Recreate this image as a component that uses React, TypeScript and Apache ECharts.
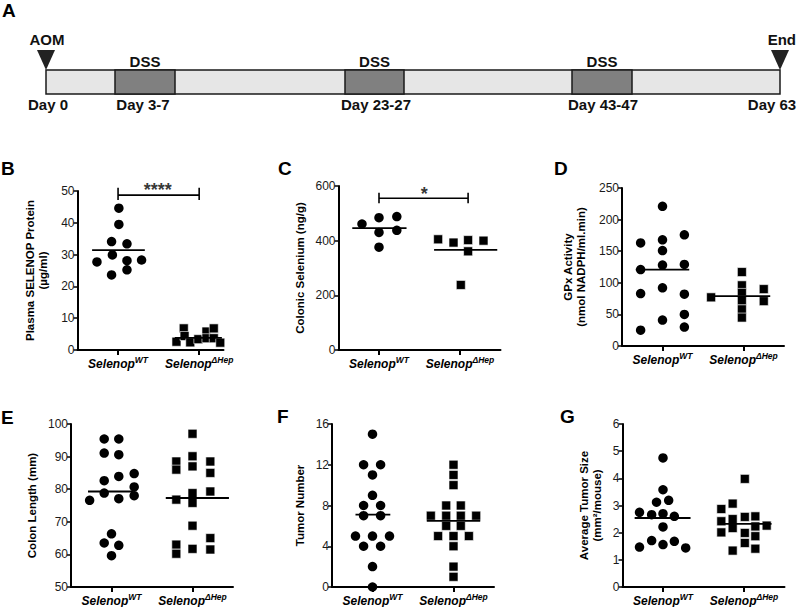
import React, { useEffect, useRef } from "react";
import * as echarts from "echarts";

const FONT = "'Liberation Sans', Arial, Helvetica, sans-serif";

// ---------- Panel A (timeline) ----------
const eventLabels = ["AOM", "End"];
const dssLabel = "DSS";
const dayLabels = ["Day 0", "Day 3-7", "Day 23-27", "Day 43-47", "Day 63"];

// ---------- Group labels ----------
const groupSup = ["WT", "ΔHep"];

// ---------- Panel B: Plasma SELENOP ----------
const bWtX = [1.01, 1.01, 0.92, 1.11, 0.74, 0.93, 1.11, 1.29, 0.92, 1.11];
const bWtValues = [44.6, 39.5, 34.1, 33.4, 27.7, 29.9, 28.1, 28.3, 23.6, 25.2];
const bHepX = [1.72, 1.81, 1.82, 1.89, 1.99, 2.09, 2.09, 2.18, 2.18, 2.26];
const bHepValues = [2.6, 6.8, 4.4, 2.4, 3.4, 5.8, 3.7, 6.8, 3.7, 2.3];
const bMeans = [31.4, 3.8];

// ---------- Panel C: Colonic Selenium ----------
const cWtX = [0.79, 1.0, 1.22, 1.0, 1.22, 1.0];
const cWtValues = [461, 484, 488, 430, 438, 376];
const cHepX = [1.73, 1.92, 2.1, 2.29, 2.1, 2.01];
const cHepValues = [405, 393, 402, 400, 361, 238];
const cMeans = [446, 366];

// ---------- Panel D: GPx Activity ----------
const dWtX = [0.73, 0.73, 0.73, 0.73, 1.0, 1.0, 1.0, 1.0, 1.0, 1.0, 1.27, 1.27, 1.27, 1.27, 1.27];
const dWtValues = [25, 83, 121, 163, 221, 168, 151, 128, 92, 41, 176, 129, 82, 50, 30];
const dHepX = [1.6, 1.98, 1.98, 1.98, 1.98, 1.98, 1.98, 2.25, 2.25];
const dHepValues = [77, 117, 96, 84, 72, 58, 45, 90, 71];
const dMeans = [121, 79];

// ---------- Panel E: Colon Length ----------
const eWtX = [0.91, 1.09, 0.91, 1.09, 0.91, 1.09, 1.28, 1.28, 1.28, 0.73, 0.91, 1.09, 0.91, 1.0, 1.09, 1.0];
const eWtValues = [95.4, 95.4, 91.1, 90.6, 82.6, 83.9, 84.8, 80.7, 78.0, 76.6, 78.8, 77.1, 63.5, 66.3, 62.8, 59.6];
const eHepX = [2, 2, 2, 2, 2, 2, 2, 1.8, 1.8, 1.8, 1.8, 1.8, 2.22, 2.22, 2.22, 2.22, 2.22];
const eHepValues = [97.0, 90.1, 87.0, 78.8, 75.8, 68.8, 61.7, 88.5, 86.0, 76.8, 63.0, 60.2, 88.5, 85.0, 79.3, 65.0, 61.5];
const eMeans = [79.3, 77.3];

// ---------- Panel F: Tumor Number ----------
const fWtX = [1.0, 0.89, 1.1, 1.0, 1.0, 0.89, 1.1, 0.89, 1.1, 0.79, 1.0, 1.21, 0.89, 1.1, 1.0, 1.0];
const fWtValues = [15, 12, 12, 11, 9, 8, 8, 7, 7, 5, 5, 5, 4, 4, 2, 0];
const fHepX = [2.0, 2.0, 2.0, 1.91, 2.09, 1.72, 1.91, 2.09, 2.28, 1.91, 2.09, 1.81, 2.0, 2.19, 2.0, 2.0, 2.0];
const fHepValues = [12, 11, 10, 8, 8, 7, 7, 7, 7, 6, 6, 5, 5, 5, 4, 2, 1];
const fMeans = [7.1, 6.5];

// ---------- Panel G: Average Tumor Size ----------
const gWtX = [1.0, 1.0, 0.92, 1.07, 0.71, 0.86, 1.0, 1.14, 1.0, 0.71, 0.86, 1.0, 1.14, 1.28];
const gWtValues = [4.75, 3.58, 3.12, 3.19, 2.75, 2.66, 2.7, 2.6, 2.21, 1.47, 1.71, 1.56, 1.68, 1.44];
const gHepX = [2.01, 1.72, 1.86, 1.72, 1.86, 2.01, 2.14, 1.72, 1.86, 2.01, 2.14, 2.28, 2.14, 2.01, 2.14, 1.86];
const gHepValues = [3.98, 2.87, 3.07, 2.42, 2.5, 2.58, 2.6, 2.01, 2.17, 1.99, 2.23, 2.26, 1.87, 1.62, 1.41, 1.34];
const gMeans = [2.54, 2.32];

const zip = (xs: number[], vs: number[]) => vs.map((v, i) => [xs[i], v]);

type Panel = {
  letter: string;
  letterPos: [number, number];
  grid: { left: number; top: number; width: number; height: number };
  xMax: number;
  yMin: number;
  yMax: number;
  yInt: number;
  name: string;
  nameGap: number;
  wtX: number[];
  wtV: number[];
  hepX: number[];
  hepV: number[];
  means: number[];
  meanSpan: [number, number][];
  bracket?: { x: [number, number]; y: number; lo: number; hi: number; stars: string; sx: number; sy: number };
};

const panels: Panel[] = [
  {
    letter: "B", letterPos: [1, 168],
    grid: { left: 77.5, top: 191, width: 146, height: 159 },
    xMax: 2.3, yMin: 0, yMax: 50, yInt: 10,
    name: "Plasma SELENOP Protein\n(µg/ml)", nameGap: 28,
    wtX: bWtX, wtV: bWtValues, hepX: bHepX, hepV: bHepValues, means: bMeans,
    meanSpan: [[0.68, 1.33], [1.7, 2.28]],
    bracket: { x: [1, 2], y: 48.7, lo: 47.2, hi: 51.0, stars: "****", sx: 1.49, sy: 50.4 },
  },
  {
    letter: "C", letterPos: [278, 168],
    grid: { left: 338.5, top: 186, width: 162, height: 164 },
    xMax: 2.5, yMin: 0, yMax: 600, yInt: 200,
    name: "Colonic Selenium (ng/g)", nameGap: 32,
    wtX: cWtX, wtV: cWtValues, hepX: cHepX, hepV: cHepValues, means: cMeans,
    meanSpan: [[0.67, 1.34], [1.68, 2.46]],
    bracket: { x: [1, 2.1], y: 555, lo: 537, hi: 575, stars: "*", sx: 1.56, sy: 570 },
  },
  {
    letter: "D", letterPos: [554, 168],
    grid: { left: 622, top: 188, width: 162, height: 158 },
    xMax: 2.5, yMin: 0, yMax: 250, yInt: 50,
    name: "GPx Activity\n(nmol NADPH/ml.min)", nameGap: 35,
    wtX: dWtX, wtV: dWtValues, hepX: dHepX, hepV: dHepValues, means: dMeans,
    meanSpan: [[0.67, 1.33], [1.62, 2.33]],
  },
  {
    letter: "E", letterPos: [1, 417],
    grid: { left: 71, top: 424, width: 162, height: 163 },
    xMax: 2.5, yMin: 50, yMax: 100, yInt: 10,
    name: "Colon Length (mm)", nameGap: 33,
    wtX: eWtX, wtV: eWtValues, hepX: eHepX, hepV: eHepValues, means: eMeans,
    meanSpan: [[0.71, 1.27], [1.67, 2.45]],
  },
  {
    letter: "F", letterPos: [277, 416],
    grid: { left: 332, top: 424, width: 162, height: 163 },
    xMax: 2.5, yMin: 0, yMax: 16, yInt: 4,
    name: "Tumor Number", nameGap: 26,
    wtX: fWtX, wtV: fWtValues, hepX: fHepX, hepV: fHepValues, means: fMeans,
    meanSpan: [[0.79, 1.22], [1.67, 2.33]],
  },
  {
    letter: "G", letterPos: [560, 416],
    grid: { left: 622.5, top: 424, width: 162, height: 163 },
    xMax: 2.5, yMin: 0, yMax: 6, yInt: 1,
    name: "Average Tumor Size\n(mm²/mouse)", nameGap: 19,
    wtX: gWtX, wtV: gWtValues, hepX: gHepX, hepV: gHepValues, means: gMeans,
    meanSpan: [[0.65, 1.34], [1.76, 2.34]],
  },
];

function buildOption() {
  const grids: any[] = [];
  const xAxes: any[] = [];
  const yAxes: any[] = [];
  const series: any[] = [];
  const graphics: any[] = [];

  panels.forEach((p, i) => {
    grids.push({ ...p.grid, containLabel: false });
    xAxes.push({
      gridIndex: i,
      type: "value",
      min: 0.5,
      max: p.xMax,
      axisLine: { show: true, onZero: false, lineStyle: { color: "#000", width: 2 } },
      axisTick: { show: true, customValues: [1, 2], length: 5, lineStyle: { color: "#000", width: 2 } },
      axisLabel: {
        show: true,
        customValues: [1, 2],
        margin: 5,
        formatter: (v: number) => `{a|Selenop}{s|${groupSup[Math.round(v) - 1]}}`,
        rich: {
          a: { fontSize: 12, fontWeight: "bold", fontStyle: "italic", fontFamily: FONT, color: "#000", padding: [3, 0, 0, 0] },
          s: { fontSize: 8.5, fontWeight: "bold", fontStyle: "italic", fontFamily: FONT, color: "#000", verticalAlign: "top" },
        },
      },
      splitLine: { show: false },
    });
    yAxes.push({
      gridIndex: i,
      type: "value",
      min: p.yMin,
      max: p.yMax,
      interval: p.yInt,
      name: p.name,
      nameLocation: "middle",
      nameGap: p.nameGap,
      nameTextStyle: { fontSize: 11.5, fontWeight: "bold", fontFamily: FONT, color: "#000", lineHeight: 13 },
      axisLine: { show: true, onZero: false, lineStyle: { color: "#000", width: 2 } },
      axisTick: { show: true, length: 4, lineStyle: { color: "#000", width: 1.5 } },
      axisLabel: { fontSize: 12, fontFamily: FONT, color: "#1a1a1a", margin: 3 },
      splitLine: { show: false },
    });

    series.push({
      type: "scatter", xAxisIndex: i, yAxisIndex: i, silent: true,
      symbol: "circle", symbolSize: 9.5,
      itemStyle: { color: "#000", opacity: 1 },
      data: zip(p.wtX, p.wtV), z: 3,
    });
    series.push({
      type: "scatter", xAxisIndex: i, yAxisIndex: i, silent: true,
      symbol: "rect", symbolSize: 9,
      itemStyle: { color: "#000", opacity: 1, borderColor: "#fff", borderWidth: 0.6 },
      data: zip(p.hepX, p.hepV), z: 3,
    });
    p.means.forEach((m, g) => {
      series.push({
        type: "line", xAxisIndex: i, yAxisIndex: i, silent: true,
        symbol: "none", z: 4,
        lineStyle: { color: "#000", width: 1.8 },
        data: [[p.meanSpan[g][0], m], [p.meanSpan[g][1], m]],
      });
    });
    if (p.bracket) {
      const b = p.bracket;
      series.push({
        type: "line", xAxisIndex: i, yAxisIndex: i, silent: true, clip: false,
        symbol: "none", z: 4,
        lineStyle: { color: "#000", width: 1.6 },
        data: [[b.x[0], b.hi], [b.x[0], b.lo], [b.x[0], b.y], [b.x[1], b.y], [b.x[1], b.hi], [b.x[1], b.lo]],
      });
      series.push({
        type: "scatter", xAxisIndex: i, yAxisIndex: i, silent: true, clip: false,
        symbol: "circle", symbolSize: 1, z: 5,
        itemStyle: { color: "rgba(0,0,0,0)" },
        label: { show: true, position: "inside", formatter: b.stars, fontSize: 18, fontWeight: "bold", fontFamily: FONT, color: "#000" },
        data: [[b.sx, b.sy]],
      });
    }

    graphics.push({
      type: "text", x: p.letterPos[0], y: p.letterPos[1],
      style: { text: p.letter, fontSize: 19, fontWeight: "bold", fontFamily: FONT, fill: "#000", verticalAlign: "middle", align: "left" },
    });
  });

  // Panel A timeline (schematic)
  const barTop = 70, barH = 24, barL = 46, barR = 780;
  const dssBoxes = [[115, 175], [345, 404], [572, 632]];
  const dayCenters = [48, 143, 376, 603, 772];
  graphics.push({
    type: "text", x: 2, y: 10,
    style: { text: "A", fontSize: 19, fontWeight: "bold", fontFamily: FONT, fill: "#000", verticalAlign: "middle", align: "left" },
  });
  graphics.push({
    type: "rect", shape: { x: barL, y: barTop, width: barR - barL, height: barH },
    style: { fill: "#e6e6e6", stroke: "#1a1a1a", lineWidth: 1.5 },
  });
  dssBoxes.forEach(([l, r]) => {
    graphics.push({
      type: "rect", shape: { x: l, y: barTop, width: r - l, height: barH },
      style: { fill: "#808080", stroke: "#1a1a1a", lineWidth: 1.5 },
    });
    graphics.push({
      type: "text", x: (l + r) / 2, y: 61,
      style: { text: dssLabel, fontSize: 15, fontWeight: "bold", fontFamily: FONT, fill: "#111", align: "center", verticalAlign: "middle" },
    });
  });
  [barL, barR].forEach((cx) => {
    graphics.push({
      type: "polygon", shape: { points: [[cx - 9, 50], [cx + 9, 50], [cx, barTop]] },
      style: { fill: "#222" },
    });
  });
  graphics.push({
    type: "text", x: 47, y: 39,
    style: { text: eventLabels[0], fontSize: 15, fontWeight: "bold", fontFamily: FONT, fill: "#111", align: "center", verticalAlign: "middle" },
  });
  graphics.push({
    type: "text", x: 796, y: 39,
    style: { text: eventLabels[1], fontSize: 15, fontWeight: "bold", fontFamily: FONT, fill: "#111", align: "right", verticalAlign: "middle" },
  });
  dayLabels.forEach((d, k) => {
    graphics.push({
      type: "text", x: dayCenters[k], y: 104,
      style: { text: d, fontSize: 15, fontWeight: "bold", fontFamily: FONT, fill: "#111", align: "center", verticalAlign: "middle" },
    });
  });

  return {
    animation: false,
    backgroundColor: "#fff",
    grid: grids,
    xAxis: xAxes,
    yAxis: yAxes,
    series,
    graphic: graphics,
  };
}

export default function App() {
  const ref = useRef<HTMLDivElement>(null);
  useEffect(() => {
    document.body.style.margin = "0";
    const chart = echarts.init(ref.current!, null, { renderer: "svg" });
    chart.setOption(buildOption() as any);
    return () => chart.dispose();
  }, []);
  return (
    <div
      ref={ref}
      style={{ position: "absolute", left: 0, top: 0, width: 800, height: 607, background: "#fff" }}
    />
  );
}
